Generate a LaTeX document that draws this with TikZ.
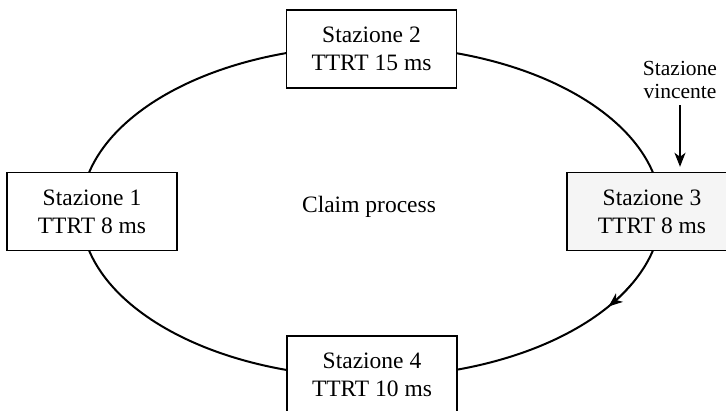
\documentclass[tikz,border=0pt]{standalone}
\usepackage{fontspec}
\setmainfont{Liberation Serif}
\usetikzlibrary{arrows.meta}

\begin{document}
\begin{tikzpicture}[x=1pt, y=1pt,
    box/.style={draw, line width=1.4pt, fill=white, minimum width=170pt, minimum height=78pt, align=center, font=\fontsize{23.5}{28}\selectfont},
    arr/.style={-{Stealth[length=14pt, width=11pt, inset=4pt]}, line width=1.6pt}
]
\useasboundingbox (0,0) rectangle (726,411);
\coordinate (c) at (371,199.5);
\draw[line width=2pt] (c) ellipse [x radius=290, y radius=165.6];

\node[box] (s1) at (92,199.5) {Stazione 1\\TTRT 8 ms};
\node[box] (s2) at (371.5,362) {Stazione 2\\TTRT 15 ms};
\node[box, fill=gray!8] (s3) at (652,199.5) {Stazione 3\\TTRT 8 ms};
\node[box] (s4) at (372,36) {Stazione 4\\TTRT 10 ms};
\node[font=\fontsize{23.5}{28}\selectfont] (claim) at (369,204) {Claim process};
\node[align=center, font=\fontsize{21.5}{23}\selectfont] (win) at (680,331) {Stazione\\vincente};

\draw[arr, shorten >=5pt, shorten <=3pt] (win.south) -- (win.south |- s3.north);
\draw[arr] ([shift={(c)}]-26:290 and 165.6) arc[start angle=-26, end angle=-35, x radius=290, y radius=165.6];
\end{tikzpicture}
\end{document}
